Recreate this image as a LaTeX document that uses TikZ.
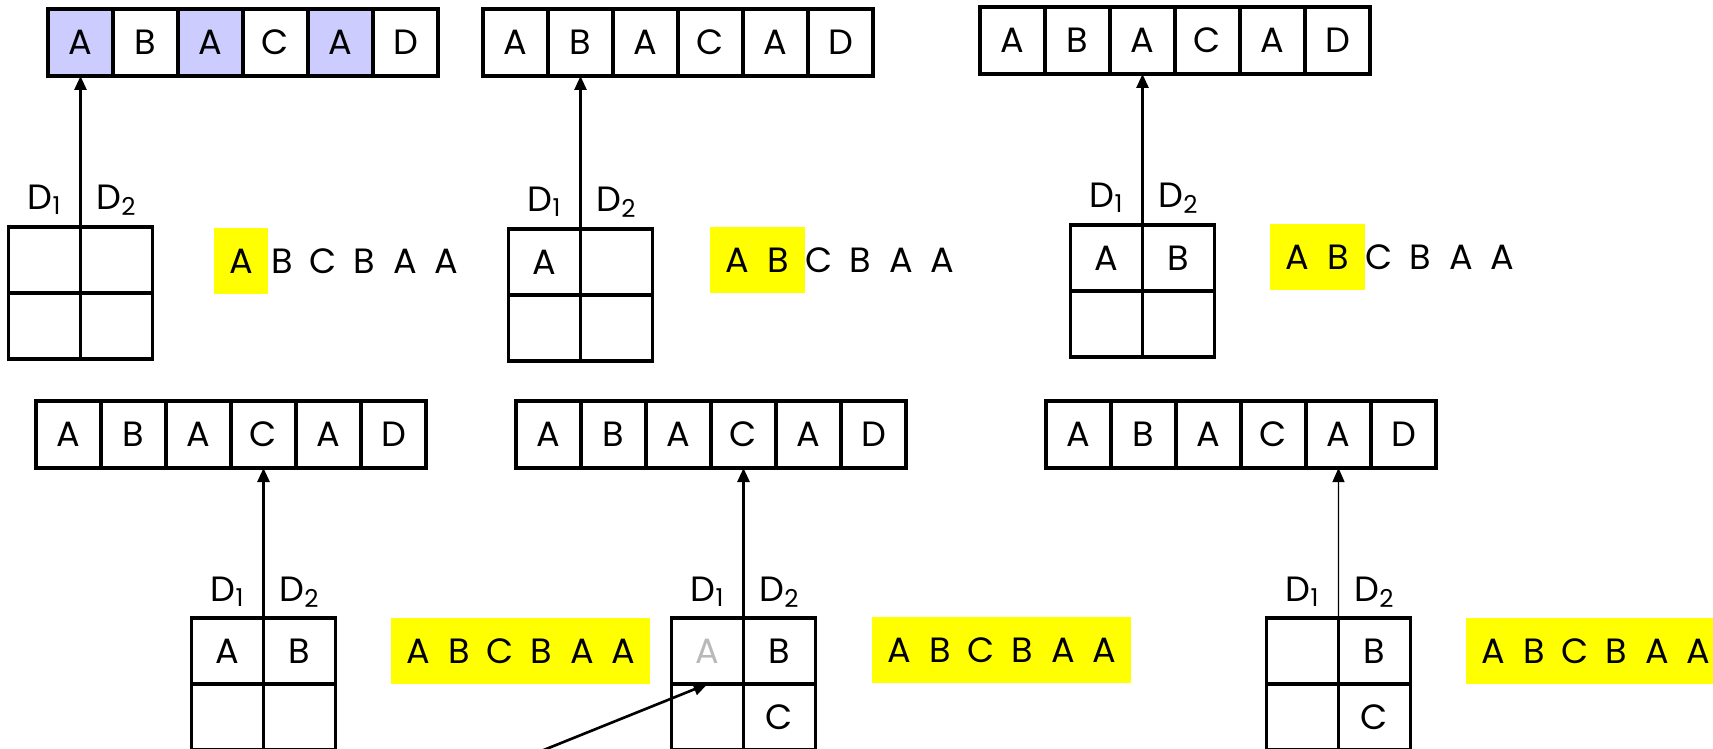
\documentclass[tikz,border=0pt]{standalone}
\usepackage{fontspec}
\setmainfont{Poppins}
\usepackage{tikz}
\usetikzlibrary{arrows.meta, positioning, fit, backgrounds}
\definecolor{hitblue}{HTML}{CCCCFF}
\definecolor{hlyellow}{HTML}{FFFF00}

\begin{document}
\begin{tikzpicture}[x=0.02cm, y=-0.02cm,
    cell/.style={rectangle, draw, line width=1.8pt, minimum width=1.3cm, minimum height=1.34cm, inner sep=0pt, outer sep=0pt, font=\fontsize{20}{24}\selectfont},
    hit/.style={cell, fill=hitblue},
    tcell/.style={cell, minimum width=1.44cm, minimum height=1.32cm},
    ghost/.style={tcell, text=gray!55},
    dlabel/.style={font=\fontsize{20}{24}\selectfont},
    letter/.style={minimum width=0.82cm, minimum height=1.3cm, inner sep=0pt, font=\fontsize{20}{24}\selectfont},
    hl/.style={fill=hlyellow, inner xsep=0.13cm, inner ysep=0pt},
    arrow/.style={-{Triangle[length=2.8mm, width=2.4mm]}, line width=1.5pt},
    thinarrow/.style={arrow, line width=0.7pt}
]
\useasboundingbox (0,0) rectangle (1713,748);
\clip (0,0) rectangle (1713,748);

% top row: strings
\foreach \l/\s [count=\i] in {A/hit,B/cell,A/hit,C/cell,A/hit,D/cell}
    \node[\s] (r1-\i) at ({80.5+65*(\i-1)},42.5) {\l};
\foreach \l [count=\i] in {A,B,A,C,A,D}
    \node[cell] (r2-\i) at ({515.5+65*(\i-1)},42.5) {\l};
\foreach \l [count=\i] in {A,B,A,C,A,D}
    \node[cell] (r3-\i) at ({1012.5+65*(\i-1)},40.5) {\l};

% top row: tables
\node[tcell] (t1a) at (44.5,260) {};
\node[tcell, right=0pt of t1a] (t1b) {};
\node[tcell, below=0pt of t1a] (t1c) {};
\node[tcell, below=0pt of t1b] (t1d) {};

\node[tcell] (t2a) at (544.5,262) {A};
\node[tcell, right=0pt of t2a] (t2b) {};
\node[tcell, below=0pt of t2a] (t2c) {};
\node[tcell, below=0pt of t2b] (t2d) {};

\node[tcell] (t3a) at (1106.5,258) {A};
\node[tcell, right=0pt of t3a] (t3b) {B};
\node[tcell, below=0pt of t3a] (t3c) {};
\node[tcell, below=0pt of t3b] (t3d) {};

\node[dlabel] (d1-1) at (44.5,200) {D\textsubscript{1}};
\node[dlabel] (d1-2) at (116.5,200) {D\textsubscript{2}};
\node[dlabel] (d2-1) at (544.5,202) {D\textsubscript{1}};
\node[dlabel] (d2-2) at (616.5,202) {D\textsubscript{2}};
\node[dlabel] (d3-1) at (1106.5,198) {D\textsubscript{1}};
\node[dlabel] (d3-2) at (1178.5,198) {D\textsubscript{2}};

\draw[arrow] (t1a.north east) -- (r1-1.south);
\draw[arrow] (t2a.north east) -- (r2-2.south);
\draw[arrow] (t3a.north east) -- (r3-3.south);

% bottom row: strings
\foreach \l [count=\i] in {A,B,A,C,A,D}
    \node[cell] (r4-\i) at ({68.5+65*(\i-1)},434.5) {\l};
\foreach \l [count=\i] in {A,B,A,C,A,D}
    \node[cell] (r5-\i) at ({548.5+65*(\i-1)},434.5) {\l};
\foreach \l [count=\i] in {A,B,A,C,A,D}
    \node[cell] (r6-\i) at ({1078.5+65*(\i-1)},434.5) {\l};

% bottom row: tables
\node[tcell] (t4a) at (227.5,651) {A};
\node[tcell, right=0pt of t4a] (t4b) {B};
\node[tcell, below=0pt of t4a] (t4c) {};
\node[tcell, below=0pt of t4b] (t4d) {};

\node[ghost] (t5a) at (707.5,651) {A};
\node[tcell, right=0pt of t5a] (t5b) {B};
\node[tcell, below=0pt of t5a] (t5c) {};
\node[tcell, below=0pt of t5b] (t5d) {C};

\node[tcell] (t6a) at (1302.5,651) {};
\node[tcell, right=0pt of t6a] (t6b) {B};
\node[tcell, below=0pt of t6a] (t6c) {};
\node[tcell, below=0pt of t6b] (t6d) {C};

\node[dlabel] (d4-1) at (227.5,592) {D\textsubscript{1}};
\node[dlabel] (d4-2) at (299.5,592) {D\textsubscript{2}};
\node[dlabel] (d5-1) at (707.5,592) {D\textsubscript{1}};
\node[dlabel] (d5-2) at (779.5,592) {D\textsubscript{2}};
\node[dlabel] (d6-1) at (1302.5,592) {D\textsubscript{1}};
\node[dlabel] (d6-2) at (1374.5,592) {D\textsubscript{2}};

\draw[arrow] (t4a.north east) -- (r4-4.south);
\draw[arrow] (t5a.north east) -- (r5-4.south);
\draw[thinarrow] (t6a.north east) -- (r6-5.south);

\coordinate (tail) at (494,770);
\draw[arrow] (tail) -- (t5a.south);

% input sequences
\foreach \l [count=\i] in {A,B,C,B,A,A} {
    \node[letter] (s1-\i) at ({241+41*(\i-1)},261) {\l};
    \node[letter] (s2-\i) at ({737+41*(\i-1)},260) {\l};
    \node[letter] (s3-\i) at ({1297+41*(\i-1)},257) {\l};
    \node[letter] (s4-\i) at ({418+41*(\i-1)},651) {\l};
    \node[letter] (s5-\i) at ({899+41*(\i-1)},650) {\l};
    \node[letter] (s6-\i) at ({1493+41*(\i-1)},651) {\l};
}
\begin{scope}[on background layer]
\node[hl, fit=(s1-1)] (h1) {};
\node[hl, fit=(s2-1)(s2-2)] (h2) {};
\node[hl, fit=(s3-1)(s3-2)] (h3) {};
\node[hl, fit=(s4-1)(s4-6)] (h4) {};
\node[hl, fit=(s5-1)(s5-6)] (h5) {};
\node[hl, fit=(s6-1)(s6-6)] (h6) {};
\end{scope}
\end{tikzpicture}
\end{document}
